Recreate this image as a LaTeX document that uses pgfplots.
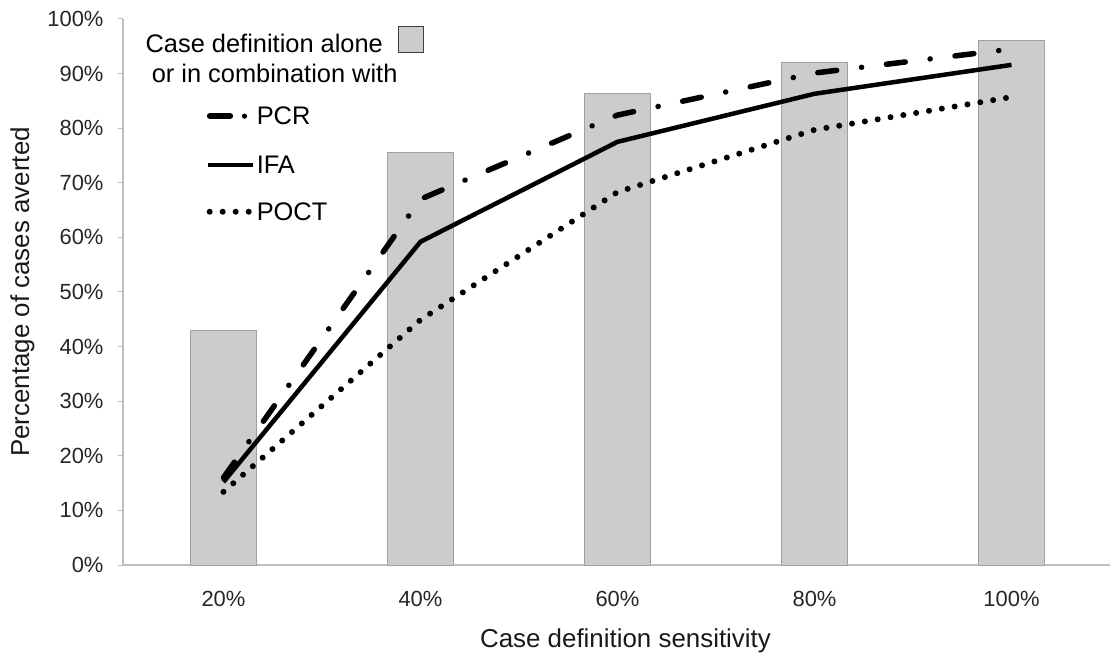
\documentclass[border=0pt]{standalone}
\usepackage{pgfplots}
\pgfplotsset{compat=1.18}
\usepackage{fontspec}
\setmainfont{Liberation Sans}

\definecolor{barfill}{RGB}{204,204,204}
\definecolor{bardraw}{RGB}{160,160,160}
\definecolor{axisgray}{RGB}{190,190,190}

\begin{document}
\begin{tikzpicture}
\begin{axis}[
    scale only axis,
    width=987bp, height=546bp,
    xmin=-0.51, xmax=4.5,
    ymin=0, ymax=100,
    axis x line*=bottom, axis y line*=left,
    axis line style={axisgray, line width=1.2pt},
    xtick={0,1,2,3,4},
    xticklabels={20\%,40\%,60\%,80\%,100\%},
    ytick={0,10,...,100},
    yticklabel={\pgfmathprintnumber{\tick}\%},
    /pgf/number format/assume math mode=true,
    tick style={axisgray, line width=1pt},
    major tick length=5bp,
    tick align=outside,
    x tick style={draw=none},
    tick label style={font=\fontsize{22}{24}\selectfont, text=black!85},
    xticklabel style={yshift=-18bp},
    yticklabel style={xshift=-11bp},
    xlabel={Case definition sensitivity},
    ylabel={Percentage of cases averted},
    label style={font=\fontsize{26}{28}\selectfont, text=black!90},
    xlabel style={yshift=-15bp, xshift=9bp},
    ylabel style={yshift=6bp},
    clip=false,
]
% case definition alone (bars)
\addplot[ybar, bar width=66bp, fill=barfill, draw=bardraw, line width=0.8pt]
coordinates {(0,43.0) (1,75.6) (2,86.3) (3,92.1) (4,96.0)};
% PCR
\addplot[black, line width=5.5bp, line cap=round,
    dash pattern=on 19bp off 25bp on 0.1bp off 25bp]
coordinates {(0,16.0) (1,67.0) (2,82.4) (3,90.1) (4,94.5)};
% IFA
\addplot[black, line width=4.5bp]
coordinates {(0,15.2) (1,59.2) (2,77.5) (3,86.3) (4,91.6)};
% POCT
\addplot[black, line width=6bp, line cap=round, dash pattern=on 0bp off 13bp]
coordinates {(0,13.4) (1,44.9) (2,68.3) (3,79.7) (4,85.7)};

% legend
\node[anchor=west, inner sep=0pt, font=\fontsize{25.5}{28}\selectfont]
    at (axis cs:-0.396,95.6) {Case definition alone};
\draw[fill=barfill, draw=black!75, line width=1pt]
    (axis cs:0.888,93.8) rectangle (axis cs:1.015,98.7);
\node[anchor=west, inner sep=0pt, font=\fontsize{25.5}{28}\selectfont]
    at (axis cs:-0.365,90.1) {or in combination with};
\draw[black, line width=5.5bp, line cap=round]
    (axis cs:-0.07,82.2) -- (axis cs:0.035,82.2);
\fill[black] (axis cs:0.107,82.2) circle (2.6bp);
\draw[black, line width=4.5bp]
    (axis cs:-0.08,73.3) -- (axis cs:0.15,73.3);
\draw[black, line width=6bp, line cap=round, dash pattern=on 0bp off 13bp]
    (axis cs:-0.07,64.7) -- (axis cs:0.13,64.7);
\node[anchor=west, inner sep=0pt, font=\fontsize{25.5}{28}\selectfont] at (axis cs:0.168,82.2) {PCR};
\node[anchor=west, inner sep=0pt, font=\fontsize{25.5}{28}\selectfont] at (axis cs:0.168,73.3) {IFA};
\node[anchor=west, inner sep=0pt, font=\fontsize{25.5}{28}\selectfont] at (axis cs:0.168,64.7) {POCT};
\end{axis}
\pgfresetboundingbox
\useasboundingbox ([xshift=-123bp,yshift=-90bp]current axis.south west)
    rectangle ([xshift=4bp,yshift=19bp]current axis.north east);
\end{tikzpicture}
\end{document}
